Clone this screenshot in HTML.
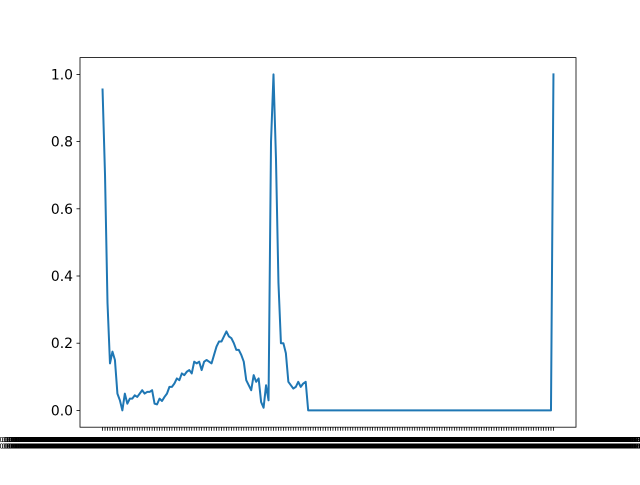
<!DOCTYPE html>
<html><head><meta charset="utf-8"><style>
html,body{margin:0;padding:0;background:#fff;}
svg text{font-family:"DejaVu Sans","Liberation Sans",sans-serif;}
</style></head>
<body>
<svg id="chart" width="640" height="480" xmlns="http://www.w3.org/2000/svg">
<rect width="640" height="480" fill="#fff"/>
<g id="plot"></g>
</svg>
<script>
const yValues = [0.955,0.7,0.32,0.14,0.175,0.15,0.05,0.03,0.0,0.05,0.02,0.035,0.035,0.045,0.04,0.05,0.06,0.05,0.055,0.055,
0.06,0.02,0.018,0.035,0.028,0.04,0.05,0.07,0.07,0.08,0.095,0.09,0.11,0.105,0.115,0.12,0.11,0.145,0.14,0.145,
0.12,0.145,0.15,0.145,0.14,0.165,0.19,0.205,0.205,0.22,0.235,0.22,0.215,0.2,0.18,0.18,0.165,0.145,0.09,0.075,
0.06,0.105,0.085,0.095,0.025,0.008,0.075,0.03,0.8,1.0,0.75,0.38,0.2,0.2,0.17,0.085,0.075,0.065,0.07,0.085,
0.07,0.08,0.085,0.0,0.0,0.0,0.0,0.0,0.0,0.0,0.0,0.0,0.0,0.0,0.0,0.0,0.0,0.0,0.0,0.0,
0.0,0.0,0.0,0.0,0.0,0.0,0.0,0.0,0.0,0.0,0.0,0.0,0.0,0.0,0.0,0.0,0.0,0.0,0.0,0.0,
0.0,0.0,0.0,0.0,0.0,0.0,0.0,0.0,0.0,0.0,0.0,0.0,0.0,0.0,0.0,0.0,0.0,0.0,0.0,0.0,
0.0,0.0,0.0,0.0,0.0,0.0,0.0,0.0,0.0,0.0,0.0,0.0,0.0,0.0,0.0,0.0,0.0,0.0,0.0,0.0,
0.0,0.0,0.0,0.0,0.0,0.0,0.0,0.0,0.0,0.0,0.0,0.0,0.0,0.0,0.0,0.0,0.0,0.0,0.0,0.0,0.0,0.0,1.0];
const categories = yValues.map((v,i)=>"0.000000000000000000000000000000000000000000000"+i);
const yTicks = [0.0,0.2,0.4,0.6,0.8,1.0];
const yTickLabels = ["0.0","0.2","0.4","0.6","0.8","1.0"];

const NS="http://www.w3.org/2000/svg";
const L=80,R=576,T=57.6,B=427.2;
const n=yValues.length;
const xMin=-0.05*(n-1), xMax=(n-1)*1.05;
const yMin=-0.05, yMax=1.05;
const xs=i=>L+(i-xMin)/(xMax-xMin)*(R-L);
const ys=v=>B-(v-yMin)/(yMax-yMin)*(B-T);
const g=document.getElementById('plot');
function mk(tag,attrs){const e=document.createElementNS(NS,tag);for(const k in attrs)e.setAttribute(k,attrs[k]);g.appendChild(e);return e;}

categories.forEach((c,i)=>{
  const x=xs(i);
  const t=mk('line',{x1:x,x2:x,y1:B,y2:B+3.5,stroke:'#000','stroke-width':0.8});
  
  
  const tx=mk('text',{x:x,y:B+15,'font-size':7,'text-anchor':'middle',fill:'#000'});
  
  
  const a=document.createElementNS(NS,'tspan');a.setAttribute('x',x);a.textContent=c;tx.appendChild(a);
  const b=document.createElementNS(NS,'tspan');b.setAttribute('x',x);b.setAttribute('dy','6.5');b.textContent=c;tx.appendChild(b);
});
yTicks.forEach((v,i)=>{
  const y=ys(v);
  const t=mk('line',{x1:L-3.5,x2:L,y1:y,y2:y,stroke:'#000','stroke-width':0.8});
  
  
  const tx=mk('text',{x:L-7,y:y+5,'font-size':13.9,'text-anchor':'end',fill:'#000'});
  tx.textContent=yTickLabels[i];
  
  
});
const pts=yValues.map((v,i)=>xs(i).toFixed(2)+','+ys(v).toFixed(2)).join(' ');
const pl=mk('polyline',{points:pts,fill:'none',stroke:'#1f77b4','stroke-width':2,'stroke-linejoin':'round','stroke-linecap':'square'});


const fr=mk('rect',{x:L,y:T,width:R-L,height:B-T,fill:'none',stroke:'#000','stroke-width':0.8});


</script>
</body></html>
